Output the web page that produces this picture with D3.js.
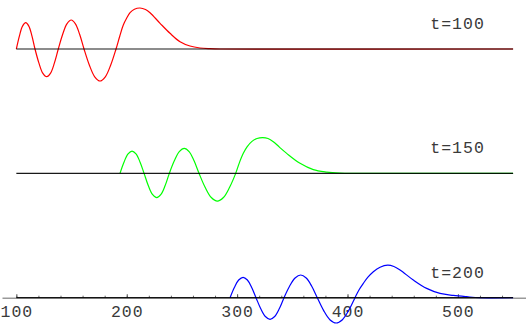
<!DOCTYPE html>
<html>
<head>
<meta charset="utf-8">
<script src="https://cdn.jsdelivr.net/npm/d3@7"></script>
<style>
  body { margin: 0; background: #fff; }
  svg { display: block; }
</style>
</head>
<body>
<script>
// snapshots of the wave, [x, amplitude]
const rows = ['t=100', 't=150', 't=200'];
const colors = ['#ff0000', '#00ff00', '#0000ff'];

const wave100 = [[100,0],[102.8,13.2],[105.6,22.9],[108.5,26.3],[111.3,22.9],[114.1,13.2],[116.9,0],
  [120.4,-13.9],[123.9,-24.1],[127.5,-27.7],[131.0,-24.1],[134.5,-13.9],[138.0,0],
  [141.9,14.5],[145.8,25.2],[149.7,29],[153.5,25.2],[157.4,14.5],[161.3,0],
  [166.1,-16],[171.0,-27.8],[175.8,-32],[180.6,-27.8],[185.5,-16],[190.3,0],
  [193.6,12.5],[196.9,24],[200,31],[203,36.3],[207,39.8],[212,41],[217,39.5],[221.1,36.3],[230.2,25.7],
  [239.2,15.7],[248.3,7.3],[257.3,3],[266.4,1],[275.4,0.3],[284.5,0],[550,0]];
const wave150 = [[193.9,0],[197.5,11.2],[201.2,19.4],[204.8,22.3],[208.4,19.4],[212.1,11.2],[215.7,0],
  [219.5,-12.2],[223.3,-21.1],[227.2,-24.3],[231.0,-21.1],[234.8,-12.2],[238.6,0],
  [243.1,12.5],[247.6,21.8],[252.1,25],[256.5,21.8],[261.0,12.5],[265.5,0],
  [271.0,-13.9],[276.6,-24.2],[282.1,-27.8],[287.6,-24.2],[293.2,-13.9],[298.7,0],
  [302,10.5],[305.6,20],[309,26.5],[313.2,31.7],[318,34.8],[323.2,35.7],[328,34.8],[332.8,31.7],[338.5,26],
  [344.9,20],[357,10],[369,3.7],[381.2,1.3],[393.2,0.3],[405.3,0],[550,0]];
const wave200 = [[293.6,0],[297.5,10.2],[301.4,17.7],[305.4,20.4],[309.3,17.7],[313.2,10.2],[317.1,0],
  [321.3,-10.8],[325.6,-18.8],[329.8,-21.6],[334.0,-18.8],[338.3,-10.8],[342.5,0],
  [347.5,11.4],[352.5,19.7],[357.6,22.7],[362.6,19.7],[367.6,11.4],[372.6,0],
  [378.3,-12.7],[384.0,-22],[389.7,-25.3],[395.4,-22],[401.1,-12.7],[406.8,0],
  [410.5,8],[414.3,14.3],[418.5,20.5],[423.4,26],[429.5,30.5],[436.4,32.5],[442,31.2],[447.6,27.7],
  [459.6,17.7],[471.7,9.3],[483.8,4.3],[495.8,2.3],[507.9,1],[520,0],[550,0]];
const waves = [wave100, wave150, wave200];

const majorTicks = [100, 200, 300, 400, 500];
const minorTicks = d3.range(100, 560, 20);
const baseStart = 100, baseEnd = 550, labelX = 475;

const W = 526, H = 332;
const svg = d3.select('body').append('svg').attr('width', W).attr('height', H);

const x = d3.scaleLinear().domain([87, 561.7]).range([2, 526]);
const row = d3.scalePoint().domain(rows).range([49, 297.7]);
const amp = d3.scaleLinear().domain([-40, 40]).range([40, -40]);

// x axis along the bottom row, ticks pointing up
const axisY = row('t=200');
svg.append('g')
  .attr('transform', `translate(0,${axisY})`)
  .call(d3.axisBottom(x).tickValues(minorTicks).tickSizeInner(-2).tickSizeOuter(0).tickFormat(''))
  .call(g => g.select('.domain').attr('stroke', '#999').attr('stroke-width', 1.5))
  .call(g => g.selectAll('.tick line').attr('stroke', '#666'));

svg.append('g')
  .attr('transform', `translate(0,${axisY})`)
  .call(d3.axisBottom(x).tickValues(majorTicks).tickSizeInner(-3.5).tickSizeOuter(0).tickPadding(0))
  .call(g => g.select('.domain').remove())
  .call(g => g.selectAll('.tick line').attr('stroke', '#555'))
  .call(g => g.selectAll('.tick text')
    .attr('y', 19).attr('dy', 0)
    .attr('fill', '#3a3a3a')
    .style('font-family', '"Liberation Mono", monospace')
    .style('font-size', '16.5px')
    .style('letter-spacing', '1px'));

const line = d3.line()
  .x(d => x(d[0]))
  .y(d => amp(d[1]))
  .curve(d3.curveCatmullRom.alpha(0.5));

rows.forEach((t, i) => {
  const g = svg.append('g').attr('transform', `translate(0,${row(t)})`);

  g.append('path')
    .attr('d', line(waves[i]))
    .attr('fill', 'none')
    .attr('stroke', colors[i])
    .attr('stroke-width', 1.2);

  g.append('line')
    .attr('x1', x(baseStart)).attr('x2', x(baseEnd))
    .attr('y1', 0).attr('y2', 0)
    .attr('stroke', '#000')
    .attr('stroke-opacity', 0.9)
    .attr('stroke-width', 1.2);

  g.append('text')
    .text(t)
    .attr('x', x(labelX))
    .attr('y', -20)
    .attr('fill', '#3a3a3a')
    .style('font-family', '"Liberation Mono", monospace')
    .style('font-size', '16.5px')
    .style('letter-spacing', '1px');
});
</script>
</body>
</html>
